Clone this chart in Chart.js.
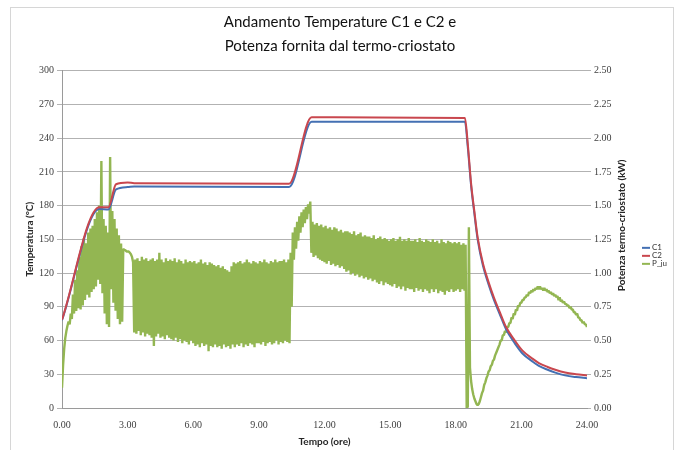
<!DOCTYPE html>
<html>
<head>
<meta charset="utf-8">
<script src="https://cdn.jsdelivr.net/npm/chart.js@4.4.0/dist/chart.umd.min.js"></script>
<style>
  html, body { margin: 0; padding: 0; background: #fff; }
  #wrap { position: relative; width: 680px; height: 450px; overflow: hidden; }
  #frame { position: absolute; left: 10px; top: 7px; width: 662px; height: 470px; border: 1px solid #d6d6d6; }
  #myChart { position: absolute; left: 0; top: 0; }
</style>
</head>
<body>
<div id="wrap">
  <div id="frame"></div>
  <canvas id="myChart" width="680" height="450"></canvas>
</div>
<script>
// thermal cycle breakpoints (ore) and probe temperatures (°C)
const tempHours = [0, 1.71, 2.12, 2.47, 3.0, 3.3, 10.38, 11.41, 18.42, 18.55, 18.7, 18.85, 19.0, 19.25, 19.5, 19.75, 20.0, 20.3, 20.7, 21.05, 21.5, 21.8, 22.2, 22.55, 23.0, 23.5, 24.0];
const c1Temp = [78, 177, 176.5, 194.5, 196.5, 197, 196.5, 254.5, 254.5, 232, 198, 173, 150, 126, 110, 96, 84, 70, 57.5, 48.5, 41.5, 37.5, 34, 31.5, 29, 27.5, 26.5];
const c2Temp = [78.5, 178.5, 178.5, 199, 200.5, 200, 199.5, 258.5, 258, 235, 200, 175, 152, 128, 112, 98, 86, 72, 60, 51, 44, 40, 36.5, 34, 31.5, 30, 29];

// thermostat power, one sample every 3 minutes (kW), one row per hour
const P_STEP = 0.05;
const pPower = [
  0.15, 0.32, 0.44, 0.52, 0.57, 0.61, 0.64, 0.62, 0.70, 0.66, 0.84, 0.70, 0.95, 0.72, 1.02, 0.74, 1.12, 0.73, 1.20, 0.76,
  1.26, 0.80, 1.22, 0.84, 1.30, 0.82, 1.33, 0.86, 1.35, 0.88, 1.40, 0.90, 1.45, 0.95, 1.50, 0.92, 1.83, 0.85, 1.40, 0.70,
  1.35, 0.62, 1.30, 0.60, 1.86, 0.88, 1.46, 0.78, 1.40, 0.72, 1.33, 0.66, 1.28, 0.62, 1.22, 0.64, 1.18, 1.17, 1.17, 1.16,
  1.16, 1.16, 1.15, 1.14, 1.12, 1.08, 0.56, 1.10, 0.55, 1.11, 0.57, 1.09, 0.54, 1.12, 0.56, 1.10, 0.53, 1.11, 0.55, 1.09,
  0.54, 1.10, 0.52, 1.11, 0.46, 1.09, 0.53, 1.10, 0.55, 1.15, 0.52, 1.10, 0.53, 1.08, 0.51, 1.11, 0.54, 1.09, 0.52, 1.10,
  0.51, 1.09, 0.50, 1.11, 0.52, 1.08, 0.49, 1.10, 0.51, 1.09, 0.48, 1.07, 0.50, 1.10, 0.49, 1.08, 0.47, 1.09, 0.50, 1.08,
  0.48, 1.09, 0.46, 1.07, 0.47, 1.08, 0.45, 1.10, 0.48, 1.07, 0.46, 1.08, 0.47, 1.06, 0.42, 1.08, 0.46, 1.07, 0.45, 1.06,
  0.47, 1.05, 0.45, 1.06, 0.46, 1.04, 0.44, 1.05, 0.47, 1.03, 0.45, 1.02, 0.46, 1.01, 0.44, 1.05, 0.47, 1.08, 0.45, 1.07,
  0.47, 1.08, 0.46, 1.09, 0.48, 1.07, 0.45, 1.08, 0.47, 1.10, 0.46, 1.08, 0.48, 1.07, 0.47, 1.09, 0.45, 1.08, 0.48, 1.07,
  0.48, 1.09, 0.47, 1.08, 0.49, 1.10, 0.46, 1.08, 0.48, 1.07, 0.49, 1.09, 0.47, 1.08, 0.48, 1.10, 0.50, 1.08, 0.47, 1.09,
  0.49, 1.09, 0.48, 1.10, 0.50, 1.08, 0.49, 1.10, 0.48, 1.15, 0.75, 1.30, 1.10, 1.34, 1.18, 1.38, 1.24, 1.42, 1.30, 1.45,
  1.34, 1.47, 1.37, 1.49, 1.40, 1.51, 1.44, 1.53, 1.15, 1.38, 1.12, 1.36, 1.13, 1.37, 1.11, 1.35, 1.10, 1.36, 1.09, 1.34,
  1.08, 1.35, 1.07, 1.33, 1.09, 1.34, 1.06, 1.32, 1.07, 1.34, 1.05, 1.33, 1.06, 1.31, 1.04, 1.32, 1.05, 1.30, 1.03, 1.31,
  1.01, 1.31, 1.02, 1.30, 0.99, 1.29, 1.00, 1.31, 0.98, 1.28, 0.99, 1.29, 0.97, 1.30, 0.98, 1.27, 0.96, 1.28, 0.97, 1.27,
  0.95, 1.27, 0.96, 1.26, 0.94, 1.28, 0.95, 1.25, 0.93, 1.26, 0.92, 1.27, 0.94, 1.25, 0.91, 1.26, 0.93, 1.25, 0.92, 1.24,
  0.91, 1.25, 0.90, 1.26, 0.92, 1.24, 0.89, 1.25, 0.90, 1.27, 0.88, 1.24, 0.90, 1.25, 0.87, 1.24, 0.89, 1.26, 0.88, 1.24,
  0.88, 1.24, 0.86, 1.25, 0.89, 1.23, 0.87, 1.26, 0.88, 1.24, 0.86, 1.23, 0.88, 1.25, 0.87, 1.24, 0.85, 1.23, 0.88, 1.25,
  0.86, 1.23, 0.88, 1.24, 0.85, 1.22, 0.87, 1.25, 0.86, 1.23, 0.84, 1.22, 0.87, 1.24, 0.86, 1.23, 0.88, 1.22, 0.86, 1.23,
  0.87, 1.22, 0.88, 1.23, 0.86, 1.21, 0.88, 1.22, 0.87, 1.21, 0.00, 0.01, 1.34, 0.30, 0.20, 0.14, 0.10, 0.07, 0.05, 0.03,
  0.02, 0.03, 0.05, 0.08, 0.11, 0.13, 0.17, 0.19, 0.22, 0.24, 0.27, 0.28, 0.31, 0.32, 0.35, 0.36, 0.39, 0.41, 0.43, 0.45,
  0.47, 0.50, 0.50, 0.54, 0.54, 0.57, 0.56, 0.60, 0.60, 0.63, 0.63, 0.67, 0.66, 0.70, 0.69, 0.73, 0.72, 0.76, 0.75, 0.78,
  0.78, 0.80, 0.80, 0.82, 0.82, 0.84, 0.83, 0.86, 0.85, 0.87, 0.86, 0.88, 0.87, 0.89, 0.88, 0.90, 0.88, 0.90, 0.88, 0.89,
  0.87, 0.89, 0.87, 0.88, 0.86, 0.87, 0.85, 0.86, 0.84, 0.85, 0.83, 0.84, 0.82, 0.83, 0.80, 0.82, 0.79, 0.80, 0.78, 0.79,
  0.77, 0.77, 0.76, 0.76, 0.74, 0.75, 0.73, 0.73, 0.71, 0.71, 0.69, 0.70, 0.67, 0.67, 0.65, 0.65, 0.63, 0.64, 0.62, 0.62,
  0.60
];

const seriesNames = ['C1', 'C2', 'P_ju'];
const seriesColors = ['#4470b3', '#c9474e', '#93b652'];

const GRID = '#b2b2b2';
const TICK_FONT = { family: 'Liberation Serif', size: 10 };
const AXIS_FONT = { family: 'Lato', size: 10, weight: 'bold' };

const toPoints = (xs, ys) => ys.map((y, i) => ({ x: xs[i], y }));

// secondary axis title (read bottom-up) and the small legend on the right
const sideTexts = {
  id: 'sideTexts',
  afterDraw(chart) {
    const { ctx, chartArea } = chart;
    const midY = (chartArea.top + chartArea.bottom) / 2;
    ctx.save();
    ctx.translate(chartArea.right + 35, midY - 14);
    ctx.rotate(-Math.PI / 2);
    ctx.font = 'bold 10px Lato';
    ctx.fillStyle = '#262626';
    ctx.textAlign = 'center';
    ctx.textBaseline = 'middle';
    ctx.fillText('Potenza termo-criostato (kW)', 0, 0);
    ctx.restore();

    ctx.save();
    ctx.font = '8px Lato';
    ctx.textBaseline = 'middle';
    chart.data.datasets.forEach((ds, i) => {
      const y = midY + 8.5 + i * 8;
      const x = chartArea.right + 55;
      ctx.strokeStyle = ds.borderColor;
      ctx.lineWidth = 2;
      ctx.beginPath();
      ctx.moveTo(x, y);
      ctx.lineTo(x + 8, y);
      ctx.stroke();
      ctx.fillStyle = '#333';
      ctx.fillText(ds.label, x + 10, y);
    });
    ctx.restore();
  }
};

const draw = () => {
  const ctx = document.getElementById('myChart').getContext('2d');
  new Chart(ctx, {
    type: 'line',
    data: {
      datasets: [
        {
          label: seriesNames[0],
          data: toPoints(tempHours, c1Temp),
          borderColor: seriesColors[0],
          borderWidth: 2,
          cubicInterpolationMode: 'monotone',
          yAxisID: 'y',
          order: 2,
        },
        {
          label: seriesNames[1],
          data: toPoints(tempHours, c2Temp),
          borderColor: seriesColors[1],
          borderWidth: 2,
          cubicInterpolationMode: 'monotone',
          yAxisID: 'y',
          order: 1,
        },
        {
          label: seriesNames[2],
          data: pPower.map((v, i) => ({ x: i * P_STEP, y: v })),
          borderColor: seriesColors[2],
          borderWidth: 2.4,
          borderJoinStyle: 'bevel',
          tension: 0,
          yAxisID: 'y1',
          order: 3,
        },
      ],
    },
    options: {
      responsive: false,
      animation: false,
      events: [],
      elements: { point: { radius: 0 } },
      layout: { padding: 0 },
      plugins: {
        legend: { display: false },
        tooltip: { enabled: false },
        title: {
          display: true,
          text: ['Andamento Temperature C1 e C2 e', 'Potenza fornita dal termo-criostato'],
          color: '#111',
          font: { family: 'Lato', size: 15, weight: 'normal', lineHeight: 1.6 },
          padding: { top: 10, bottom: 12.7 },
        },
      },
      scales: {
        x: {
          type: 'linear',
          min: 0,
          max: 24,
          afterFit: (s) => { s.height = 42; },
          grid: { display: false, drawTicks: false },
          border: { display: true, color: '#9a9a9a' },
          ticks: {
            stepSize: 3,
            padding: 11,
            color: '#404040',
            font: TICK_FONT,
            maxRotation: 0,
            callback: (v) => v.toFixed(2),
          },
          title: {
            display: true,
            text: 'Tempo (ore)',
            color: '#262626',
            font: AXIS_FONT,
            padding: { top: 0, bottom: 2 },
          },
        },
        y: {
          position: 'left',
          min: 0,
          max: 300,
          afterFit: (s) => { s.width = 62; },
          grid: { color: GRID, tickLength: 5 },
          border: { display: true, color: '#9a9a9a' },
          ticks: { stepSize: 30, padding: 3, color: '#404040', font: TICK_FONT },
          title: {
            display: true,
            text: 'Temperatura (°C)',
            color: '#262626',
            font: AXIS_FONT,
            padding: { top: 24, bottom: 0 },
          },
        },
        y1: {
          position: 'right',
          min: 0,
          max: 2.5,
          afterFit: (s) => { s.width = 93; },
          grid: { drawOnChartArea: false, color: GRID, tickLength: 4 },
          border: { display: false },
          ticks: {
            stepSize: 0.25,
            padding: 3,
            color: '#404040',
            font: TICK_FONT,
            callback: (v) => v.toFixed(2),
          },
        },
      },
    },
    plugins: [sideTexts],
  });
};

window.onload = draw;
</script>
</body>
</html>
